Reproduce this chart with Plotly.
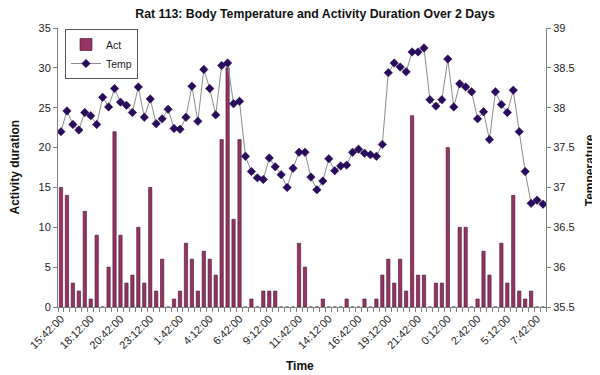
import plotly.graph_objects as go

# 30-minute samples starting 15:42
time_labels = ["15:42:00", "18:12:00", "20:42:00", "23:12:00", "1:42:00", "4:12:00", "6:42:00",
               "9:12:00", "11:42:00", "14:12:00", "16:42:00", "19:12:00", "21:42:00", "0:12:00",
               "2:42:00", "5:12:00", "7:42:00"]
label_step = 5

act = [15, 14, 3, 2, 12, 1, 9, 0, 5, 22,
       9, 3, 4, 10, 3, 15, 2, 6, 0, 1,
       2, 8, 6, 2, 7, 6, 4, 21, 30, 11,
       21, 0, 1, 0, 2, 2, 2, 0, 0, 0,
       8, 5, 0, 0, 1, 0, 0, 0, 1, 0,
       0, 1, 0, 1, 4, 6, 3, 6, 2, 24,
       4, 4, 0, 3, 3, 20, 0, 10, 10, 0,
       1, 7, 4, 0, 8, 3, 14, 2, 1, 2,
       0, 0]

temp = [37.70, 37.96, 37.79, 37.72, 37.94, 37.90, 37.79, 38.13, 38.01, 38.24,
        38.07, 38.03, 37.94, 38.26, 37.88, 38.11, 37.80, 37.86, 37.98, 37.74,
        37.73, 37.88, 38.27, 37.83, 38.48, 38.24, 37.91, 38.53, 38.56, 38.05,
        38.08, 37.39, 37.20, 37.12, 37.10, 37.37, 37.26, 37.16, 37.00, 37.24,
        37.44, 37.44, 37.13, 36.97, 37.08, 37.36, 37.21, 37.27, 37.28, 37.44,
        37.48, 37.43, 37.41, 37.39, 37.54, 38.44, 38.56, 38.51, 38.45, 38.70,
        38.70, 38.75, 38.10, 38.02, 38.10, 38.61, 38.01, 38.30, 38.26, 38.20,
        37.86, 37.95, 37.60, 38.20, 38.04, 37.94, 38.22, 37.70, 37.20, 36.80,
        36.84, 36.79]

act_ticks = [0, 5, 10, 15, 20, 25, 30, 35]
temp_ticks = [35.5, 36, 36.5, 37, 37.5, 38, 38.5, 39]
temp_tick_text = ["35.5", "36", "36.5", "37", "37.5", "38", "38.5", "39"]

idx = list(range(len(act)))
label_pos = [i * label_step for i in range(len(time_labels))]

FONT = "Arial, Liberation Sans, sans-serif"

# page body adds an 8px offset; the figure is sized to fill the rest of the 600x375 window
W, H = 592, 367
L, R, T, B = 50, 54, 20, 68
PW, PH = W - L - R, H - T - B

fig = go.Figure()
fig.add_trace(go.Bar(
    x=idx, y=act, name="Act", width=0.55,
    marker=dict(color="#993366", line=dict(color="#3a1028", width=0.6)),
    yaxis="y"))
fig.add_trace(go.Scatter(
    x=idx, y=temp, name="Temp", mode="lines+markers", yaxis="y2",
    line=dict(color="#8c8c8c", width=1),
    marker=dict(symbol="diamond", size=6.5, color="#2a0a5e",
                line=dict(color="#1a0640", width=0.5))))

fig.update_layout(
    width=W, height=H,
    margin=dict(l=L, r=R, t=T, b=B),
    paper_bgcolor="white", plot_bgcolor="white",
    font=dict(family=FONT, size=11, color="#222"),
    showlegend=True,
    title=dict(text="<b>Rat 113: Body Temperature and Activity Duration Over 2 Days</b>",
               x=307 / W, xanchor="center", y=1 - 5.5 / H, yanchor="middle", yref="container",
               font=dict(family=FONT, size=12.3, color="#111")),
    legend=dict(x=7 / PW, y=1 - 1 / PH, xanchor="left", yanchor="top",
                bgcolor="white", bordercolor="#555", borderwidth=1, itemwidth=30,
                font=dict(family=FONT, size=10.5, color="#222"), tracegroupgap=0),
    xaxis=dict(range=[-0.5, len(act) - 0.5], tickmode="array", tickvals=label_pos,
               ticktext=time_labels, tickangle=-45, ticks="", showgrid=False,
               zeroline=False, showline=True, linecolor="#808080", linewidth=1,
               tickfont=dict(size=11, color="#222"),
               minor=dict(ticks="outside", tick0=0.5, dtick=1, ticklen=4,
                          tickcolor="#808080", showgrid=False)),
    yaxis=dict(range=[0, 35], tickmode="array", tickvals=act_ticks, ticks="outside",
               ticklen=4, tickcolor="#808080", showgrid=False, zeroline=False,
               showline=True, linecolor="#808080", linewidth=1,
               tickfont=dict(size=11, color="#222")),
    yaxis2=dict(range=[35.5, 39], overlaying="y", side="right", tickmode="array",
                tickvals=temp_ticks, ticktext=temp_tick_text, ticks="outside", ticklen=4,
                tickcolor="#808080", showgrid=False, zeroline=False, showline=True,
                linecolor="#808080", linewidth=1, tickfont=dict(size=11, color="#222")),
    annotations=[
        dict(text="<b>Activity duration</b>", xref="paper", yref="paper",
             x=(6 - L) / PW, y=0.5, xanchor="center", yanchor="middle", textangle=-90,
             showarrow=False, font=dict(family=FONT, size=12, color="#111")),
        dict(text="<b>Temperature</b>", xref="paper", yref="paper",
             x=(582 - L) / PW, y=0.49, xanchor="center", yanchor="middle", textangle=-90,
             showarrow=False, font=dict(family=FONT, size=12, color="#111")),
        dict(text="<b>Time</b>", xref="paper", yref="paper",
             x=(292 - L) / PW, y=-59 / PH, xanchor="center", yanchor="middle",
             showarrow=False, font=dict(family=FONT, size=12, color="#111")),
    ],
)

fig.write_html("out.html")
